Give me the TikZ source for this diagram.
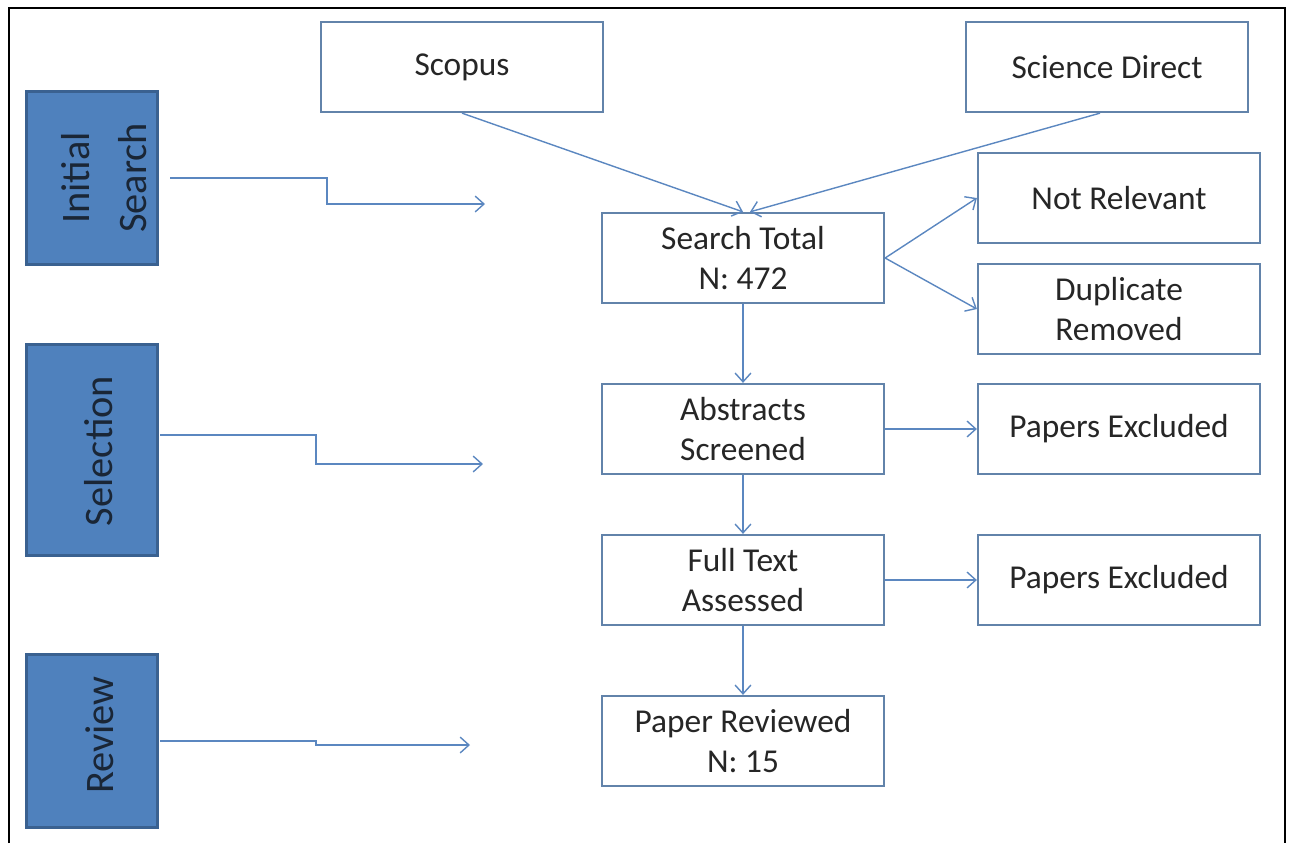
\documentclass[tikz,border=0pt]{standalone}
\usepackage{fontspec}
\setmainfont{Carlito}
\usetikzlibrary{arrows.meta}
\definecolor{stagefill}{HTML}{4F81BD}
\definecolor{stageedge}{HTML}{3A6190}
\definecolor{boxedge}{HTML}{6283AA}
\definecolor{linkblue}{HTML}{5B87C0}
\definecolor{inkgrey}{HTML}{262626}
\definecolor{inknavy}{HTML}{1A2636}
\tikzset{
  stagebox/.style={draw=stageedge, line width=1.2pt, fill=stagefill,
    minimum width=2.62cm, inner sep=0pt},
  stagetext/.style={rotate=90, align=center, text=inknavy, inner sep=0pt,
    font=\fontsize{23}{32.4}\selectfont},
  flowbox/.style={draw=boxedge, line width=1.3pt, fill=white, align=center,
    text=inkgrey, font=\fontsize{19}{22.8}\selectfont,
    minimum width=5.64cm, minimum height=1.8cm, inner sep=0pt},
  link/.style={draw=linkblue, line width=0.8pt, -{Straight Barb[length=5pt,width=9pt]}}
}
\begin{document}
\begin{tikzpicture}[x=0.02cm, y=-0.02cm]
\useasboundingbox (0,0) rectangle (1291,843);
% outer frame, open at the bottom
\draw[line width=1.3pt] (9,843) -- (9,8) -- (1285,8) -- (1285,843);

% stages on the left
\node[stagebox, minimum height=3.46cm] (initial) at (92,178) {};
\node[stagebox, minimum height=4.22cm] (selection) at (92,450) {};
\node[stagebox, minimum height=3.46cm] (review) at (92,741) {};
\node[stagetext] (initialtxt) at (104,178) {Initial\\Search};
\node[stagetext] (selectiontxt) at (99,451) {Selection};
\node[stagetext] (reviewtxt) at (100,735) {Review};

% main flow
\node[flowbox] (scopus) at (462,67) {Scopus};
\node[flowbox] (scidirect) at (1107,67) {Science Direct};
\node[flowbox] (total) at (743,258) {Search Total\\N: 472};
\node[flowbox] (notrel) at (1119,198) {Not Relevant};
\node[flowbox] (dupl) at (1119,309) {Duplicate\\Removed};
\node[flowbox] (abstracts) at (743,429) {Abstracts\\Screened};
\node[flowbox] (exclA) at (1119,429) {Papers Excluded};
\node[flowbox] (fulltext) at (743,580) {Full Text\\Assessed};
\node[flowbox] (exclB) at (1119,580) {Papers Excluded};
\node[flowbox] (reviewed) at (743,741) {Paper Reviewed\\N: 15};

\draw[link] (scopus.south) -- (total.north);
\draw[link] ([xshift=-0.14cm]scidirect.south) -- ([xshift=0.14cm]total.north);
\draw[link] (total.east) -- (notrel.west);
\draw[link] (total.east) -- (dupl.west);
\draw[link] (total) -- (abstracts);
\draw[link] (abstracts) -- (exclA);
\draw[link] (abstracts) -- (fulltext);
\draw[link] (fulltext) -- (exclB);
\draw[link] (fulltext) -- (reviewed);

% stage pointers
\coordinate (initialA) at (170,178);
\coordinate (initialB) at (485,204);
\coordinate (selectionA) at (160,435);
\coordinate (selectionB) at (483,464);
\coordinate (reviewA) at (160,741);
\coordinate (reviewB) at (470,745);
\draw[link] (initialA) -- (327,178) -- (327,204) -- (initialB);
\draw[link] (selectionA) -- (316,435) -- (316,464) -- (selectionB);
\draw[link] (reviewA) -- (316,741) -- (316,745) -- (reviewB);
\end{tikzpicture}
\end{document}
